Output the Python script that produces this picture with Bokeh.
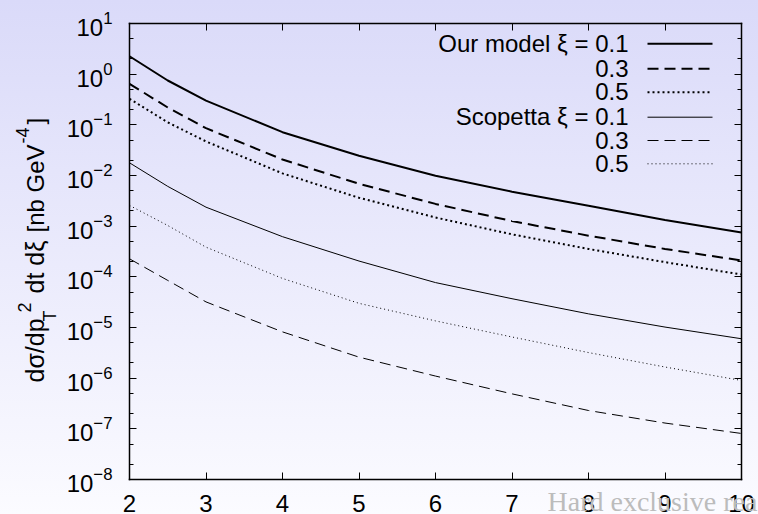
from bokeh.plotting import figure
from bokeh.models import (Range1d, FixedTicker, LogTickFormatter, LogAxis, LinearAxis,
                          Label, Arrow, CustomJSTickFormatter)
from bokeh.embed import file_html
from bokeh.resources import INLINE

# ---------------- data ----------------
pt = [2, 2.5, 3, 4, 5, 6, 7, 8, 9, 10]
model_01 = [2.26, 0.75, 0.30, 0.0716, 0.0245, 0.0099, 0.0048, 0.00252, 0.00132, 0.00075]
model_03 = [0.645, 0.22, 0.0859, 0.0207, 0.00686, 0.00275, 0.00126, 0.00065, 0.000355, 0.00021]
model_05 = [0.327, 0.112, 0.047, 0.011, 0.00363, 0.00148, 0.00069, 0.000355, 0.000195, 0.000111]
scop_01 = [0.0178, 0.0061, 0.00237, 0.00062, 0.000205, 0.000077, 0.000037, 0.0000186, 0.0000102, 0.000006]
scop_03 = [2.27e-4, 8.5e-5, 3.2e-5, 8.2e-6, 2.6e-6, 1.1e-6, 4.9e-7, 2.3e-7, 1.3e-7, 8.1e-8]
scop_05 = [2.57e-3, 1.03e-3, 3.85e-4, 9.3e-5, 3.0e-5, 1.35e-5, 6.5e-6, 3.2e-6, 1.66e-6, 9.0e-7]

x_ticks = [2, 3, 4, 5, 6, 7, 8, 9, 10]
y_ticks = [10.0 ** k for k in range(-8, 2)]
y_minor = [m * 10.0 ** k for k in range(-8, 1) for m in (2, 5)]
X_LO, X_HI = 2, 10
Y_LO_EXP, Y_HI_EXP = -8, 1

series = [
    ("Our model \u03be = 0.1", model_01, 2.0, "solid"),
    ("0.3", model_03, 2.0, "11 6"),
    ("0.5", model_05, 2.0, "2 3"),
    ("Scopetta \u03be = 0.1", scop_01, 1.0, "solid"),
    ("0.3", scop_03, 1.0, "11 6"),
    ("0.5", scop_05, 1.0, "1 3"),
]

FONT = "Liberation Sans"
FS = "24px"

# page geometry: the plotting box occupies pixels L..R, T..B of the canvas
L, R, T, B = 129, 741, 23, 479
W, H = 758, 514

# the frame fills the whole canvas; extend the ranges so the data box lands on the box above
xpp = (X_HI - X_LO) / (R - L)
ypp = (Y_HI_EXP - Y_LO_EXP) / (B - T)
x_range = Range1d(X_LO - L * xpp, X_HI + (W - R) * xpp)
y_range = Range1d(10 ** (Y_LO_EXP - (H - B) * ypp), 10 ** (Y_HI_EXP + T * ypp))

p = figure(width=W, height=H, x_range=x_range, y_range=y_range,
           y_axis_type="log", output_backend="svg", toolbar_location=None,
           min_border=0, min_border_left=0, min_border_right=0,
           min_border_top=0, min_border_bottom=0)
p.styles = {"background": "linear-gradient(180deg, #dadaf9 0%, #fbfbff 100%)"}
p.border_fill_color = None
p.background_fill_color = None
p.outline_line_color = None
p.xgrid.visible = False
p.ygrid.visible = False

xt = FixedTicker(ticks=x_ticks)
yt = FixedTicker(ticks=y_ticks, minor_ticks=y_minor)
blank = CustomJSTickFormatter(code="return ''")
xb = (X_LO, X_HI)
yb = (10.0 ** Y_LO_EXP, 10.0 ** Y_HI_EXP)

bottom_ax = p.xaxis[0]
bottom_ax.ticker = xt
bottom_ax.fixed_location = yb[0]
bottom_ax.bounds = xb
bottom_ax.major_label_standoff = 15

left_ax = p.yaxis[0]
left_ax.ticker = yt
left_ax.formatter = LogTickFormatter()
left_ax.fixed_location = xb[0]
left_ax.bounds = yb
left_ax.major_label_standoff = 17

top_ax = LinearAxis(ticker=xt, formatter=blank, fixed_location=yb[1], bounds=xb)
right_ax = LogAxis(ticker=yt, formatter=blank, fixed_location=xb[1], bounds=yb)
p.add_layout(top_ax, "above")
p.add_layout(right_ax, "right")

for ax in (bottom_ax, left_ax, top_ax, right_ax):
    ax.axis_line_color = "black"
    ax.axis_line_width = 1.5
    ax.axis_line_cap = "square"
    ax.major_tick_in = 7
    ax.major_tick_out = 0
    ax.minor_tick_in = 4
    ax.minor_tick_out = 0
    ax.major_tick_line_color = "black"
    ax.minor_tick_line_color = "black"
    ax.major_label_text_font = FONT
    ax.major_label_text_font_size = FS
    ax.major_label_text_color = "black"
for ax in (top_ax, right_ax):
    ax.major_label_text_font_size = "1px"
    ax.major_label_standoff = 0

for name, ys, lw, dash in series:
    p.line(pt, ys, line_color="black", line_width=lw, line_dash=dash)

# ---------------- key (gnuplot style: label left, sample right) ----------------
row_y = [43.3, 68.3, 91.7, 116.7, 140, 163.3]
for (name, ys, lw, dash), ry in zip(series, row_y):
    sy = H - ry
    p.add_layout(Label(x=628, y=sy + 0.5, x_units="screen", y_units="screen", text=name,
                       text_align="right", text_baseline="middle",
                       text_font=FONT, text_font_size=FS, text_color="black"))
    p.add_layout(Arrow(end=None, x_start=647, y_start=sy, x_end=712, y_end=sy,
                       start_units="screen", end_units="screen",
                       line_color="black", line_width=lw, line_dash=dash))

# ---------------- y axis title built from pieces (rotated, reading upward) ----------------
# (text, font px, centre line x in page px, start y in page px)
pieces = [
    ("d\u03c3/dp", 25, 34.6, 382),
    ("T", 18, 49.8, 321),
    ("2", 18, 23.8, 312),
    ("dt d\u03be", 25, 34.6, 293),
    ("[nb GeV", 24, 34.6, 232),
    ("-4", 18, 21.8, 143),
    ("]", 24, 34.6, 124),
]
for txt, fs, cx, sy0 in pieces:
    p.add_layout(Label(x=cx, y=H - sy0, x_units="screen", y_units="screen", text=txt,
                       angle=1.5707963267948966, text_align="left", text_baseline="middle",
                       text_font=FONT, text_font_size=f"{fs}px", text_color="black"))

# footer text of the slide
p.add_layout(Label(x=547, y=H - 501.3, x_units="screen", y_units="screen",
                   text="Hard exclusive rea", text_align="left", text_baseline="middle",
                   text_font="Liberation Serif", text_font_size="28px",
                   text_color="#bcbcbc"))

open("out.html", "w").write(file_html(p, INLINE))
